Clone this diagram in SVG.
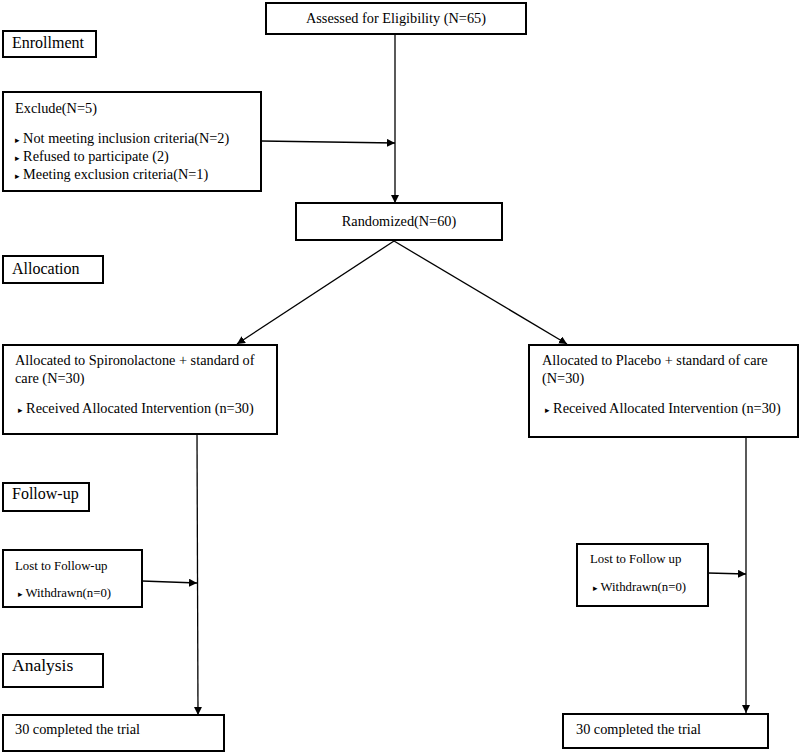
<svg xmlns="http://www.w3.org/2000/svg" width="800" height="754" viewBox="0 0 800 754">
<defs>
<style>
.box{fill:#fff;stroke:#000;stroke-width:2}
.t{font-family:"Liberation Serif","Times New Roman",serif;font-size:14.3px;fill:#000}
.s{font-family:"Liberation Serif","Times New Roman",serif;font-size:12.8px;fill:#000}
.h{font-family:"Liberation Serif","Times New Roman",serif;font-size:16px;fill:#000}
.c{fill:none;stroke:#000;stroke-width:1.3}
.b{font-family:"DejaVu Sans",sans-serif;font-size:9px}
</style>
<marker id="ah" viewBox="0 0 10 10" refX="10" refY="5" markerWidth="8" markerHeight="8" markerUnits="userSpaceOnUse" orient="auto">
<path d="M0,0 L10,5 L0,10 Z" fill="#000"/>
</marker>
</defs>
<rect width="800" height="754" fill="#fff"/>
<g id="connectors">
<line class="c" x1="395" y1="34" x2="395" y2="203" marker-end="url(#ah)"/>
<line class="c" x1="261" y1="141" x2="395" y2="143" marker-end="url(#ah)"/>
<line class="c" x1="394" y1="241" x2="237" y2="344" marker-end="url(#ah)"/>
<line class="c" x1="394" y1="241" x2="567" y2="344" marker-end="url(#ah)"/>
<line class="c" x1="197" y1="434" x2="198" y2="715" marker-end="url(#ah)"/>
<line class="c" x1="142" y1="581" x2="197" y2="583" marker-end="url(#ah)"/>
<line class="c" x1="746" y1="437" x2="746" y2="713" marker-end="url(#ah)"/>
<line class="c" x1="708" y1="573" x2="746" y2="574" marker-end="url(#ah)"/>
</g>
<g id="assessed">
<rect class="box" x="266" y="3" width="260" height="31"/>
<text class="t" x="396" y="23" text-anchor="middle">Assessed for Eligibility (N=65)</text>
</g>
<g id="enrollment">
<rect class="box" x="3" y="31" width="93" height="26"/>
<text class="h" x="12" y="48">Enrollment</text>
</g>
<g id="exclude">
<rect class="box" x="3" y="92" width="258" height="99"/>
<text class="t" x="15" y="113">Exclude(N=5)</text>
<text class="t" x="15" y="143"><tspan class="b">▸</tspan> Not meeting inclusion criteria(N=2)</text>
<text class="t" x="15" y="161"><tspan class="b">▸</tspan> Refused to participate (2)</text>
<text class="t" x="15" y="179"><tspan class="b">▸</tspan> Meeting exclusion criteria(N=1)</text>
</g>
<g id="randomized">
<rect class="box" x="296" y="203" width="206" height="37"/>
<text class="t" x="399" y="226" text-anchor="middle">Randomized(N=60)</text>
</g>
<g id="allocation">
<rect class="box" x="3" y="256" width="100" height="27"/>
<text class="h" x="12" y="274">Allocation</text>
</g>
<g id="alloc-spiro">
<rect class="box" x="3" y="345" width="274" height="89"/>
<text class="t" x="15" y="365">Allocated to Spironolactone + standard of</text>
<text class="t" x="15" y="383">care (N=30)</text>
<text class="t" x="18" y="413"><tspan class="b">▸</tspan> Received Allocated Intervention (n=30)</text>
</g>
<g id="alloc-placebo">
<rect class="box" x="529" y="345" width="269" height="92"/>
<text class="t" x="542" y="365">Allocated to Placebo + standard of care</text>
<text class="t" x="542" y="383">(N=30)</text>
<text class="t" x="545" y="413"><tspan class="b">▸</tspan> Received Allocated Intervention (n=30)</text>
</g>
<g id="followup">
<rect class="box" x="3" y="483" width="86" height="28"/>
<text class="h" x="12" y="499">Follow-up</text>
</g>
<g id="lost-left">
<rect class="box" x="3" y="550" width="139" height="57"/>
<text class="s" x="15" y="570">Lost to Follow-up</text>
<text class="s" x="18" y="597"><tspan class="b">▸</tspan> Withdrawn(n=0)</text>
</g>
<g id="lost-right">
<rect class="box" x="577" y="544" width="131" height="62"/>
<text class="s" x="590" y="563">Lost to Follow up</text>
<text class="s" x="593" y="591"><tspan class="b">▸</tspan> Withdrawn(n=0)</text>
</g>
<g id="analysis">
<rect class="box" x="3" y="654" width="100" height="33"/>
<text class="h" x="12" y="671" style="font-size:17.5px">Analysis</text>
</g>
<g id="completed-left">
<rect class="box" x="3" y="715" width="221" height="36"/>
<text class="t" x="15" y="734">30 completed the trial</text>
</g>
<g id="completed-right">
<rect class="box" x="563" y="714" width="205" height="34"/>
<text class="t" x="576" y="734">30 completed the trial</text>
</g>
</svg>
